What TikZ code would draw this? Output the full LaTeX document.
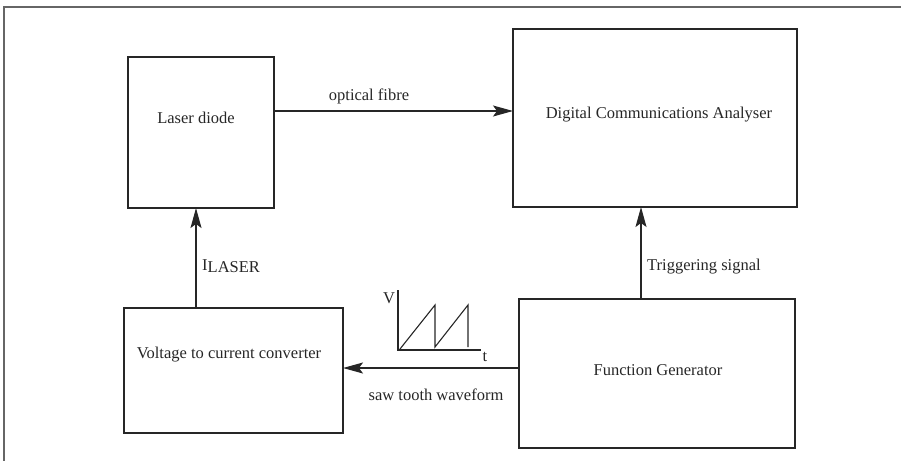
\documentclass[tikz,border=0pt]{standalone}
\usepackage{fontspec}
\setmainfont{Liberation Serif}
\usetikzlibrary{arrows.meta}
\begin{document}
\begin{tikzpicture}[x=1pt,y=-1pt,
  blk/.style={draw=black!85,line width=1.2pt,minimum width=0pt},
  conn/.style={draw=black!85,line width=1.2pt,-{Stealth[length=20pt,width=11pt,inset=4pt]}},
  lbl/.style={font=\fontsize{16.5}{18}\selectfont,text=black!85,inner sep=0pt},
  wave/.style={draw=black!85,line width=1.1pt}]
\useasboundingbox (0,0) rectangle (901,461);
\draw[black!60,line width=1.2pt] (901,7) -- (4,7) -- (4,461);
% boxes
\draw[blk] (128,57) rectangle (274,208);
\node[lbl] (ld) at (196,118) {Laser diode};
\draw[blk] (513,29) rectangle (797,207);
\node[lbl] (dca) at (659,115) {Digital Communications Analyser};
\draw[blk] (124,308) rectangle (343,433);
\node[lbl] (vc) at (229,355) {Voltage to current converter};
\draw[blk] (519,299) rectangle (795,448);
\node[lbl] (fg) at (658,370) {Function Generator};
% anchors
\coordinate (ldE) at (274,111);
\coordinate (dcaW) at (513,111);
\coordinate (ldS) at (196,208);
\coordinate (vcN) at (196,308);
\coordinate (dcaS) at (641,207);
\coordinate (fgN) at (641,299);
\coordinate (fgW) at (519,368);
\coordinate (vcE) at (343,368);
% connectors
\draw[conn] (ldE) -- (dcaW);
\draw[conn] (vcN) -- (ldS);
\draw[conn] (fgN) -- (dcaS);
\draw[conn] (fgW) -- (vcE);
% labels
\node[lbl] (of) at (369,96) {optical fibre};
\node[lbl,anchor=west] (il) at (202,266) {I\raisebox{-0.35ex}{LASER}};
\node[lbl,anchor=west] (ts) at (647,267) {Triggering signal};
\node[lbl] (sw) at (436,395) {saw tooth waveform};
% sawtooth
\coordinate (o) at (398,350);
\draw[wave] (398,290) -- (o) -- (481,350);
\draw[wave] (400,349) -- (435,305) -- (435,347) -- (468,305) -- (468,347);
\node[lbl] (vl) at (389,298) {V};
\node[lbl] (tl) at (485,357) {t};
\end{tikzpicture}
\end{document}
